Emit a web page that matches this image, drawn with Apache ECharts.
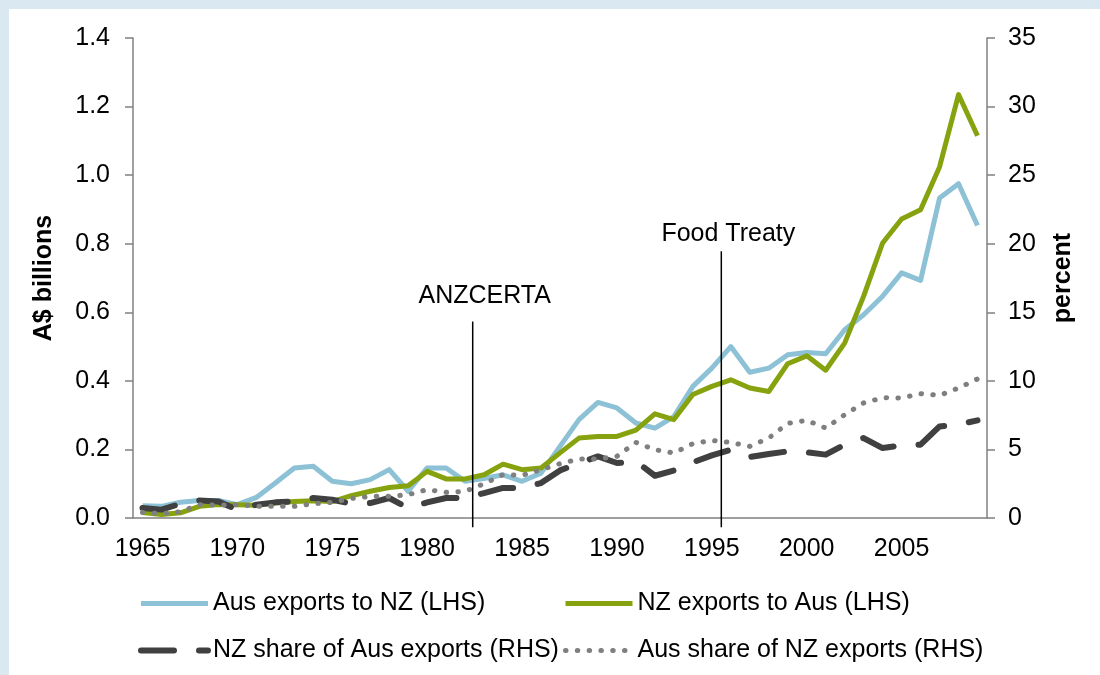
<!DOCTYPE html>
<html>
<head>
<meta charset="utf-8">
<title>Trans-Tasman trade</title>
<script src="https://cdn.jsdelivr.net/npm/echarts@6/dist/echarts.min.js"></script>
<style>
  html, body { margin: 0; padding: 0; background: #fff; }
  #chart { width: 1100px; height: 675px; }
</style>
</head>
<body>
<div id="chart"></div>
<script>
// years on the category axis
const years = [
  '1965', '1966', '1967', '1968', '1969', '1970', '1971', '1972', '1973', '1974',
  '1975', '1976', '1977', '1978', '1979', '1980', '1981', '1982', '1983', '1984',
  '1985', '1986', '1987', '1988', '1989', '1990', '1991', '1992', '1993', '1994',
  '1995', '1996', '1997', '1998', '1999', '2000', '2001', '2002', '2003', '2004',
  '2005', '2006', '2007', '2008', '2009'
];

// A$ billions (LHS)
const ausExportsToNz = [
  0.036, 0.034, 0.046, 0.051, 0.051, 0.039, 0.060, 0.102, 0.146, 0.151,
  0.107, 0.100, 0.112, 0.141, 0.078, 0.146, 0.146, 0.107, 0.115, 0.126,
  0.107, 0.131, 0.209, 0.287, 0.337, 0.321, 0.277, 0.262, 0.296, 0.384,
  0.437, 0.500, 0.425, 0.437, 0.476, 0.483, 0.479, 0.549, 0.593, 0.647,
  0.715, 0.693, 0.933, 0.975, 0.853
];
const nzExportsToAus = [
  0.016, 0.010, 0.015, 0.034, 0.039, 0.039, 0.037, 0.044, 0.048, 0.050,
  0.048, 0.065, 0.078, 0.089, 0.094, 0.136, 0.114, 0.114, 0.126, 0.157,
  0.141, 0.146, 0.190, 0.233, 0.238, 0.238, 0.256, 0.304, 0.287, 0.360,
  0.384, 0.403, 0.379, 0.369, 0.450, 0.473, 0.431, 0.510, 0.647, 0.802,
  0.872, 0.899, 1.024, 1.235, 1.115
];

// percent (RHS)
const nzShareOfAusExports = [
  0.73, 0.61, 1.04, 1.28, 1.21, 0.61, 0.97, 1.14, 1.21, 1.46,
  1.33, 1.04, 1.09, 1.46, 0.73, 1.14, 1.46, 1.46, 1.82, 2.19,
  2.19, 2.55, 3.47, 4.01, 4.49, 4.01, 4.13, 3.08, 3.47, 4.06,
  4.57, 4.98, 4.45, 4.67, 4.86, 4.79, 4.62, 5.35, 5.83, 5.10,
  5.30, 5.35, 6.68, 6.81, 7.12
];
const ausShareOfNzExports = [
  0.41, 0.31, 0.46, 0.97, 0.95, 0.97, 0.85, 0.85, 0.85, 1.04,
  1.14, 1.43, 1.58, 1.58, 1.70, 2.07, 1.87, 1.94, 2.50, 3.16,
  3.11, 3.52, 3.96, 4.30, 4.30, 4.50, 5.51, 4.98, 4.74, 5.42,
  5.66, 5.51, 5.22, 5.83, 6.90, 7.12, 6.56, 7.53, 8.39, 8.77,
  8.75, 9.07, 8.94, 9.48, 10.14
];

// events marked with vertical lines (year, top of line in A$ billions)
const eventNames = ['ANZCERTA', 'Food Treaty'];
const eventYears = [1982.4, 1995.5];
const eventTops = [0.573, 0.778];
const eventBottom = -0.027;

const leftTicks = { min: 0, max: 1.4, interval: 0.2 };
const rightTicks = { min: 0, max: 35, interval: 5 };

const FONT = 'Liberation Sans, Arial, sans-serif';
const AXIS_GREY = '#808080';
const labelDistance = [13, 5];
const labelShift = [12, 7];

const chart = echarts.init(document.getElementById('chart'), null, { renderer: 'canvas' });

const lineSeries = [
  {
    name: 'Aus exports to NZ (LHS)', data: ausExportsToNz, yAxisIndex: 0,
    lineStyle: { color: '#8DC2D6', width: 5, join: 'round' }
  },
  {
    name: 'NZ exports to Aus (LHS)', data: nzExportsToAus, yAxisIndex: 0,
    lineStyle: { color: '#86A30F', width: 5, join: 'round' }
  },
  {
    name: 'NZ share of Aus exports (RHS)', data: nzShareOfAusExports, yAxisIndex: 1,
    lineStyle: { color: '#404040', width: 6, type: [33, 25], cap: 'round', join: 'round' }
  },
  {
    name: 'Aus share of NZ exports (RHS)', data: ausShareOfNzExports, yAxisIndex: 1,
    lineStyle: { color: '#7F7F7F', width: 5, type: [0.5, 11.3], cap: 'round', join: 'round' }
  }
].map(s => ({
  type: 'line',
  xAxisIndex: 0,
  symbol: 'none',
  itemStyle: { color: s.lineStyle.color },
  ...s
}));

// vertical event lines, drawn on a hidden numeric year axis
const eventSeries = eventNames.map((name, i) => ({
  name: name,
  type: 'line',
  xAxisIndex: 1,
  yAxisIndex: 0,
  clip: false,
  silent: true,
  symbol: 'circle',
  symbolSize: 0,
  lineStyle: { color: '#000', width: 1.5 },
  itemStyle: { color: '#000' },
  data: [
    {
      value: [eventYears[i], eventTops[i]],
      label: {
        show: true,
        position: 'top',
        distance: labelDistance[i],
        offset: [labelShift[i], 0],
        formatter: name,
        fontSize: 25,
        fontFamily: FONT,
        color: '#000'
      }
    },
    [eventYears[i], eventBottom]
  ]
}));

const legendBase = {
  orient: 'vertical',
  padding: 0,
  itemWidth: 67,
  itemHeight: 25,
  itemGap: 22,
  top: 591,
  selectedMode: false,
  textStyle: { fontSize: 25, fontFamily: FONT, color: '#000' },
  lineStyle: { width: 'inherit' },
  itemStyle: { opacity: 0 }
};

const option = {
  animation: false,
  textStyle: { fontFamily: FONT },
  graphic: [
    { type: 'rect', shape: { x: 0, y: 0, width: 1100, height: 9 }, style: { fill: '#D9E8F1' } },
    { type: 'rect', shape: { x: 0, y: 0, width: 9, height: 675 }, style: { fill: '#D9E8F1' } }
  ],
  grid: { left: 133, right: 113, top: 38, bottom: 157, containLabel: false },
  legend: [
    Object.assign({}, legendBase, {
      left: 138,
      data: ['Aus exports to NZ (LHS)', 'NZ share of Aus exports (RHS)']
    }),
    Object.assign({}, legendBase, {
      left: 563,
      data: ['NZ exports to Aus (LHS)', 'Aus share of NZ exports (RHS)']
    })
  ],
  xAxis: [
    {
      type: 'category',
      data: years,
      boundaryGap: true,
      axisLine: { lineStyle: { color: AXIS_GREY, width: 1.5 } },
      axisTick: { interval: 4, length: 8, lineStyle: { color: AXIS_GREY, width: 1.5 } },
      axisLabel: { interval: 4, margin: 19, fontSize: 25, color: '#000' },
      splitLine: { show: false }
    },
    {
      type: 'value',
      min: 1964.5,
      max: 2009.5,
      show: false
    }
  ],
  yAxis: [
    {
      type: 'value',
      position: 'left',
      min: leftTicks.min,
      max: leftTicks.max,
      interval: leftTicks.interval,
      name: 'A$ billions',
      nameLocation: 'middle',
      nameRotate: 90,
      nameGap: 76,
      nameTextStyle: { fontSize: 25, fontWeight: 'bold', color: '#000' },
      axisLine: { show: true, lineStyle: { color: AXIS_GREY, width: 1.5 } },
      axisTick: { show: true, length: 8, lineStyle: { color: AXIS_GREY, width: 1.5 } },
      axisLabel: { margin: 23, fontSize: 25, color: '#000', formatter: v => v.toFixed(1) },
      splitLine: { show: false }
    },
    {
      type: 'value',
      position: 'right',
      min: rightTicks.min,
      max: rightTicks.max,
      interval: rightTicks.interval,
      name: 'percent',
      nameLocation: 'middle',
      nameRotate: 90,
      nameGap: 64,
      nameTextStyle: { fontSize: 25, fontWeight: 'bold', color: '#000' },
      axisLine: { show: true, lineStyle: { color: AXIS_GREY, width: 1.5 } },
      axisTick: { show: true, length: 8, lineStyle: { color: AXIS_GREY, width: 1.5 } },
      axisLabel: { margin: 21, fontSize: 25, color: '#000' },
      splitLine: { show: false }
    }
  ],
  series: lineSeries.concat(eventSeries)
};

chart.setOption(option);
</script>
</body>
</html>
